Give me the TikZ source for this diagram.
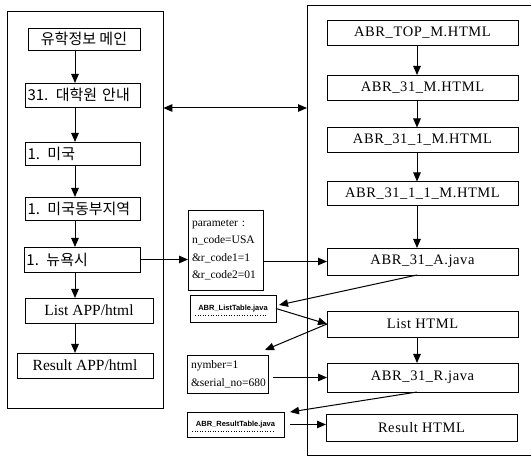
\documentclass[tikz,border=0pt]{standalone}
\usepackage{fontspec}
\setmainfont{Liberation Serif}
\newfontfamily\kr{Noto Sans CJK KR}
\newfontfamily\rs{Liberation Serif}[LetterSpace=4.0]
\newfontfamily\bsans{Liberation Sans}
\usetikzlibrary{arrows.meta,calc}
\tikzset{
  bx/.style={draw, line width=0.9pt, inner sep=0pt, outer sep=0pt},
  krl/.style={bx, font=\kr\fontsize{15}{18}\selectfont, align=left, inner xsep=2.5pt},
  krc/.style={bx, font=\kr\fontsize{15}{18}\selectfont, align=center},
  ltx/.style={bx, font=\fontsize{15.5}{18}\selectfont, align=center},
  rbx/.style={bx, font=\rs\fontsize{14.5}{17}\selectfont, minimum width=191pt, align=center},
  sbx/.style={draw, line width=0.8pt, outer sep=0pt, inner ysep=0pt, inner xsep=4pt, align=left},
  jbx/.style={draw, line width=0.8pt, outer sep=0pt, inner sep=0pt, font=\bsans\bfseries\fontsize{7.5}{9}\selectfont},
  frm/.style={draw, line width=0.7pt},
  arr/.style={-{Triangle[length=9pt,width=7.5pt]}, line width=1pt},
  darr/.style={{Triangle[length=9pt,width=7.5pt]}-{Triangle[length=9pt,width=7.5pt]}, line width=1pt},
}
\begin{document}
\begin{tikzpicture}[x=1pt,y=-1pt]
\useasboundingbox (0,0) rectangle (531,457);
\fill[white] (0,0) rectangle (531,457);

% frames
\node[frm, inner sep=0pt, minimum width=156pt, minimum height=397pt] (lf) at (85,209.5) {};
\coordinate (rfa) at (531,5);
\coordinate (rfb) at (307,5);
\coordinate (rfc) at (307,455);
\coordinate (rfd) at (531,455);
\draw[frm] (rfa) -- (rfb) -- (rfc) -- (rfd);

% axis coordinates for vertical arrows
\coordinate (lax) at (75,0);
\coordinate (rax) at (417,0);

% left column
\node[krc, minimum width=112pt, minimum height=22pt] (n1) at (84,39) {유학정보 메인};
\node[krl, text width=110pt, minimum height=24pt] (n2) at (82.5,95) {31. 대학원 안내};
\node[krl, text width=110pt, minimum height=23pt] (n3) at (82.5,153.5) {1. 미국};
\node[krl, text width=110pt, minimum height=23pt] (n4) at (82.5,208.5) {1. 미국동부지역};
\node[krl, text width=111pt, minimum height=25pt] (n5) at (82,259.5) {1. 뉴욕시};
\node[ltx, minimum width=128pt, minimum height=25pt] (n6) at (89,310.5) {List APP/html};
\node[ltx, minimum width=136pt, minimum height=25pt] (n7) at (85,365.5) {Result APP/html};

\draw[arr] (n1.south -| lax) -- (n2.north -| lax);
\draw[arr] (n2.south -| lax) -- (n3.north -| lax);
\draw[arr] (n3.south -| lax) -- (n4.north -| lax);
\draw[arr] (n4.south -| lax) -- (n5.north -| lax);
\draw[arr] (n5.south -| lax) -- (n6.north -| lax);
\draw[arr] (n6.south -| lax) -- (n7.north -| lax);

% right column
\node[rbx, minimum height=25pt] (r1) at (422.5,32.5) {ABR\_TOP\_M.HTML};
\node[rbx, minimum height=25pt] (r2) at (422.5,87.5) {ABR\_31\_M.HTML};
\node[rbx, minimum height=25pt] (r3) at (422.5,140) {ABR\_31\_1\_M.HTML};
\node[rbx, minimum height=24pt] (r4) at (422.5,193.5) {ABR\_31\_1\_1\_M.HTML};
\node[rbx, minimum height=27pt] (r5) at (422.5,261.5) {ABR\_31\_A.java};
\node[rbx, minimum height=26pt] (r6) at (422.5,324) {List HTML};
\node[rbx, minimum height=29pt] (r7) at (422.5,377.5) {ABR\_31\_R.java};
\node[rbx, minimum height=27pt] (r8) at (421.5,427.5) {Result HTML};

\draw[arr] (r1.south -| rax) -- (r2.north -| rax);
\draw[arr] (r2.south -| rax) -- (r3.north -| rax);
\draw[arr] (r3.south -| rax) -- (r4.north -| rax);
\draw[arr] (r4.south -| rax) -- (r5.north -| rax);
\draw[arr] (r6.south -| rax) -- (r7.north -| rax);

% small boxes
\node[sbx, text width=67pt, minimum height=80pt, font=\fontsize{11.5}{17.5}\selectfont] (pb) at (225.5,250)
  {parameter :\\n\_code=USA\\\&r\_code1=1\\\&r\_code2=01};
\node[jbx, minimum width=86pt, minimum height=27pt] (lt) at (233,308.5) {ABR\_ListTable.java};
\node[sbx, text width=73pt, minimum height=38pt, font=\fontsize{11.5}{18}\selectfont] (nb) at (227.5,374)
  {nymber=1\\\&serial\_no=680};
\node[jbx, minimum width=97pt, minimum height=25pt] (rt) at (235.5,424.5) {ABR\_ResultTable.java};
\draw[dotted, line width=0.6pt] ([shift={(5,-7)}]lt.south west) -- ([shift={(-9,-7)}]lt.south east);
\draw[dotted, line width=0.6pt] ([shift={(5,-6)}]rt.south west) -- ([shift={(-9,-6)}]rt.south east);

% connectors
\draw[darr] (lf.east |- 0,108) -- (rfb |- 0,108);
\draw[arr] (n5.east) -- (n5.east -| pb.west);
\draw[arr] (pb.east |- r5.west) -- (r5.west);
\draw[arr] (r5.south -| rax) -- ([shift={(3,10)}]lt.north east);
\draw[arr] (lt.east) -- (r6.west);
\draw[arr] (r6.west) -- ([shift={(-3,-5)}]nb.north east);
\draw[arr] ([xshift=5pt]nb.east |- r7.west) -- (r7.west);
\draw[arr] (r7.south -| rax) -- ([xshift=6pt]rt.north east);
\draw[arr] ([xshift=6pt]rt.east) -- (r8.west |- rt.east);
\end{tikzpicture}
\end{document}
